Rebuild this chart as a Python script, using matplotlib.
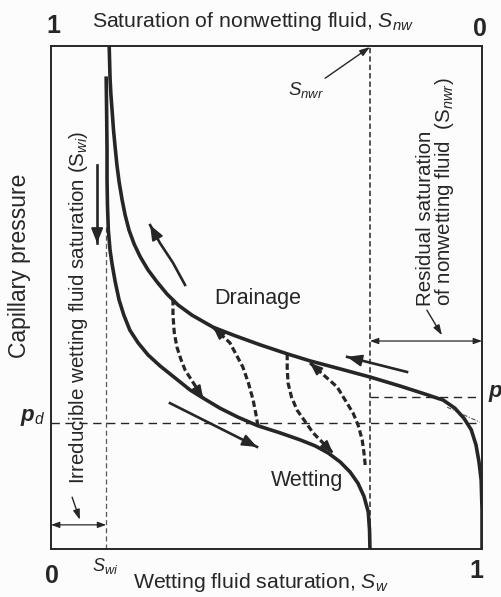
import matplotlib
matplotlib.use("Agg")
import matplotlib.pyplot as plt

plt.rcParams['font.family'] = ['Liberation Sans', 'DejaVu Sans']
plt.rcParams['mathtext.fontset'] = 'custom'
plt.rcParams['mathtext.rm'] = 'Liberation Sans'
plt.rcParams['mathtext.it'] = 'Liberation Sans:italic'
plt.rcParams['mathtext.bf'] = 'Liberation Sans:bold'
plt.rcParams['mathtext.bfit'] = 'Liberation Sans:italic:bold'

INK = '#262626'

# saturations / pressures (normalised 0..1)
s_wi = 0.128          # irreducible wetting saturation
s_w_at_snwr = 0.74    # Sw = 1 - Snwr
p_d = 0.25            # displacement pressure
p_t = 0.302           # drainage threshold level

# primary drainage curve
drain_sw = [0.135, 0.136, 0.137, 0.139, 0.142, 0.145, 0.149, 0.153, 0.158, 0.165,
            0.172, 0.181, 0.193, 0.207, 0.225, 0.246, 0.269, 0.295, 0.327, 0.376,
            0.427, 0.485, 0.548, 0.601, 0.671, 0.740, 0.810, 0.868, 0.910, 0.937,
            0.958, 0.975, 0.986, 0.993, 0.998, 1.0, 1.0]
drain_pc = [1.0, 0.968, 0.936, 0.903, 0.869, 0.833, 0.797, 0.763, 0.730, 0.694,
            0.664, 0.634, 0.606, 0.581, 0.555, 0.531, 0.507, 0.485, 0.465, 0.441,
            0.424, 0.406, 0.388, 0.374, 0.358, 0.342, 0.324, 0.308, 0.296, 0.280,
            0.260, 0.237, 0.207, 0.173, 0.137, 0.078, 0.0]

# imbibition (wetting) curve
wet_sw = [0.128, 0.129, 0.130, 0.130, 0.131, 0.133, 0.137, 0.142, 0.149, 0.158,
          0.169, 0.183, 0.202, 0.225, 0.253, 0.288, 0.323, 0.353, 0.392, 0.434,
          0.480, 0.531, 0.578, 0.613, 0.643, 0.671, 0.694, 0.712, 0.726, 0.736,
          0.739, 0.740]
wet_pc = [0.936, 0.873, 0.793, 0.734, 0.684, 0.634, 0.594, 0.565, 0.531, 0.495,
          0.465, 0.435, 0.410, 0.386, 0.364, 0.340, 0.316, 0.300, 0.280, 0.262,
          0.245, 0.231, 0.217, 0.205, 0.191, 0.173, 0.153, 0.131, 0.105, 0.074,
          0.038, 0.0]

# scanning curves (dashed)
scan1_sw = [0.283, 0.283, 0.286, 0.292, 0.301, 0.311, 0.353]
scan1_pc = [0.497, 0.465, 0.430, 0.402, 0.378, 0.356, 0.300]
scan2_sw = [0.480, 0.475, 0.469, 0.458, 0.445, 0.415, 0.376]
scan2_pc = [0.245, 0.270, 0.296, 0.330, 0.362, 0.410, 0.441]
scan3_sw = [0.548, 0.548, 0.550, 0.558, 0.571, 0.608, 0.654]
scan3_pc = [0.388, 0.360, 0.330, 0.302, 0.276, 0.231, 0.191]
scan4_sw = [0.729, 0.726, 0.722, 0.713, 0.701, 0.664, 0.601]
scan4_pc = [0.167, 0.192, 0.217, 0.245, 0.270, 0.322, 0.370]

# direction arrows along the curves
arr_down_sw = [0.107, 0.107]
arr_down_pc = [0.763, 0.608]
arr_up_sw = [0.311, 0.283, 0.253, 0.230]
arr_up_pc = [0.525, 0.569, 0.608, 0.644]
arr_wet_sw = [0.276, 0.478]
arr_wet_pc = [0.290, 0.203]
arr_right_sw = [0.826, 0.687]
arr_right_pc = [0.352, 0.382]

fig = plt.figure(figsize=(5.02, 5.97), dpi=100, facecolor='#fcfcfc')
ax = fig.add_axes([0.1016, 0.0804, 0.8586, 0.8425])
ax.set_facecolor('#fcfcfc')
ax.set_xlim(0, 1)
ax.set_ylim(0, 1)
ax.set_xticks([])
ax.set_yticks([])
for sp in ax.spines.values():
    sp.set_linewidth(1.4)
    sp.set_color(INK)


def head(xs, ys, ms=15, lw=2.0):
    x1, y1 = xs[-1], ys[-1]
    x0 = x1 - 0.05 * (x1 - xs[-2])
    y0 = y1 - 0.05 * (y1 - ys[-2])
    ax.annotate('', xy=(x1, y1), xytext=(x0, y0),
                arrowprops=dict(arrowstyle='-|>,head_length=0.55,head_width=0.22',
                                color=INK, lw=lw, mutation_scale=ms,
                                shrinkA=0, shrinkB=0))


# reference lines
ax.plot([s_wi, s_wi], [0, 0.64], color='#555555', lw=0.9, dashes=(4, 2.5))
ax.plot([s_w_at_snwr, s_w_at_snwr], [0, 1], color=INK, lw=1.1, dashes=(3.5, 2))
ax.plot([0, 1], [p_d, p_d], color=INK, lw=1.0, dashes=(6, 4))
ax.plot([s_w_at_snwr, 1], [p_t, p_t], color=INK, lw=1.0, dashes=(6, 4))
ax.plot([0.919, 0.995], [0.282, 0.252], color='#555555', lw=0.8, dashes=(4, 1.5, 1, 1.5))

# main curves
ax.plot(drain_sw, drain_pc, color=INK, lw=2.6, solid_joinstyle='round')
ax.plot(wet_sw, wet_pc, color=INK, lw=2.6, solid_joinstyle='round')

# scanning loops
for sx, sy in [(scan1_sw, scan1_pc), (scan2_sw, scan2_pc),
               (scan3_sw, scan3_pc), (scan4_sw, scan4_pc)]:
    ax.plot(sx, sy, color=INK, lw=2.3, dashes=(2.0, 1.0))
    head(sx, sy, ms=13, lw=1.5)

# solid direction arrows
for sx, sy in [(arr_down_sw, arr_down_pc), (arr_up_sw, arr_up_pc),
               (arr_wet_sw, arr_wet_pc), (arr_right_sw, arr_right_pc)]:
    ax.plot(sx, sy, color=INK, lw=1.9)
    head(sx, sy, ms=16, lw=1.5)

# dimension arrows
thin = dict(arrowstyle='<|-|>,head_length=0.5,head_width=0.18', color=INK,
            lw=0.9, mutation_scale=10, shrinkA=0, shrinkB=0)
ax.annotate('', xy=(0, 0.048), xytext=(s_wi, 0.048), arrowprops=thin)
ax.annotate('', xy=(s_w_at_snwr, 0.4135), xytext=(1, 0.4135), arrowprops=thin)
lead = dict(arrowstyle='-|>,head_length=0.6,head_width=0.2', color=INK,
            lw=1.0, mutation_scale=10, shrinkA=0, shrinkB=0)
ax.annotate('', xy=(0.067, 0.058), xytext=(0.049, 0.103), arrowprops=lead)
ax.annotate('', xy=(0.907, 0.425), xytext=(0.872, 0.475), arrowprops=lead)
ax.annotate('', xy=(0.740, 0.998), xytext=(0.636, 0.936), arrowprops=lead)

# labels inside
fs = 14.8
ax.text(0.480, 0.499, 'Drainage', fontsize=15.5, ha='center', va='center', color=INK)
ax.text(0.594, 0.137, 'Wetting', fontsize=15.5, ha='center', va='center', color=INK)
ax.text(0.592, 0.913, r'$S_{nwr}$', fontsize=13.5, ha='center', va='center', color=INK)
ax.text(0.063, 0.481, r'Irreducible wetting fluid saturation (S$_{wi}$)',
        fontsize=fs, rotation=90, ha='center', va='center', color=INK)
ax.text(0.894, 0.483, 'Residual saturation\nof nonwetting fluid  (S$_{nwr}$)',
        fontsize=fs, rotation=90, ha='center', va='bottom', color=INK,
        multialignment='left', linespacing=0.9)

# labels outside the frame
ax.text(0.469, 1.038, r'Saturation of nonwetting fluid, $S_{nw}$', fontsize=15.3,
        ha='center', va='baseline', color=INK, clip_on=False)
ax.text(0.005, 1.026, '1', fontsize=18, fontweight='bold', ha='center',
        va='baseline', color=INK, clip_on=False)
ax.text(0.995, 1.020, '0', fontsize=18, fontweight='bold', ha='center',
        va='baseline', color=INK, clip_on=False)
ax.text(0.002, -0.0676, '0', fontsize=18, fontweight='bold', ha='center',
        va='baseline', color=INK, clip_on=False)
ax.text(0.988, -0.0577, '1', fontsize=18, fontweight='bold', ha='center',
        va='baseline', color=INK, clip_on=False)
ax.text(0.125, -0.0437, r'$S_{wi}$', fontsize=13, ha='center', va='baseline',
        color=INK, clip_on=False)
ax.text(0.487, -0.0775, r'Wetting fluid saturation, $S_w$', fontsize=15.3,
        ha='center', va='baseline', color=INK, clip_on=False)
ax.text(-0.072, 0.563, 'Capillary pressure', fontsize=16.5, rotation=90,
        ha='center', va='center', color=INK, clip_on=False)
ax.text(-0.042, 0.262, r'$\mathbfit{p}_{\mathit{d}}$', fontsize=16, ha='center',
        va='center', color=INK, clip_on=False)
ax.text(1.013, 0.31, r'$\mathbfit{p}$', fontsize=16, ha='left',
        va='center', color=INK, clip_on=False)

fig.savefig('out.png', dpi=100, facecolor=fig.get_facecolor())
